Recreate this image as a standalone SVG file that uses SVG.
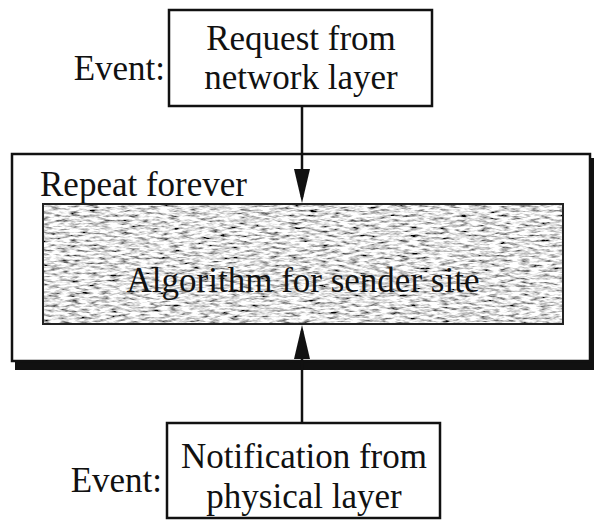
<svg xmlns="http://www.w3.org/2000/svg" width="596" height="520" viewBox="0 0 596 520">
  <defs>
    <style>
      text { font-family: "Liberation Serif", "Times New Roman", serif; font-size: 35px; fill: #111; }
      .c { text-anchor: middle; }
      .box { fill: #fff; stroke: #111; stroke-width: 2.5; }
      .wire { stroke: #111; stroke-width: 2.5; fill: none; }
    </style>
    <marker id="arrow" markerUnits="userSpaceOnUse" markerWidth="34" markerHeight="16" viewBox="0 0 34 16" refX="28" refY="8" orient="auto">
      <path d="M0,0 L34,8 L0,16 Z" fill="#111"/>
    </marker>
    <filter id="grain" x="0" y="0" width="1" height="1">
      <feTurbulence type="fractalNoise" baseFrequency="0.1 0.4" numOctaves="3" seed="7" result="n"/>
      <feColorMatrix in="n" type="matrix" values="2.4 0 0 0 -0.45  2.4 0 0 0 -0.45  2.4 0 0 0 -0.45  0 0 0 0 1" result="g"/>
      <feComposite in="g" in2="SourceGraphic" operator="in"/>
    </filter>
  </defs>

  <g id="request">
    <text x="165" y="80" text-anchor="end">Event:</text>
    <rect class="box" x="169" y="10" width="263" height="96"/>
    <text class="c" x="301" y="50">Request from</text>
    <text class="c" x="301" y="89">network layer</text>
  </g>

  <g id="loop">
    <rect x="15" y="158" width="579" height="212" fill="#111"/>
    <rect class="box" x="12" y="154" width="578" height="207"/>
    <text x="40" y="196">Repeat forever</text>
  </g>

  <g id="algorithm">
    <rect x="43" y="204" width="520" height="120" fill="#fff" filter="url(#grain)"/>
    <rect x="43" y="204" width="520" height="120" fill="none" stroke="#222" stroke-width="2"/>
    <text class="c" x="303" y="292">Algorithm for sender site</text>
  </g>

  <g id="notification">
    <text x="162" y="492" text-anchor="end">Event:</text>
    <rect class="box" x="167" y="423" width="273" height="95"/>
    <text class="c" x="304" y="468">Notification from</text>
    <text class="c" x="304" y="508">physical layer</text>
  </g>

  <g id="connectors">
    <line class="wire" x1="302" y1="107" x2="302" y2="197" marker-end="url(#arrow)"/>
    <line class="wire" x1="302" y1="422" x2="302" y2="331" marker-end="url(#arrow)"/>
  </g>
</svg>
